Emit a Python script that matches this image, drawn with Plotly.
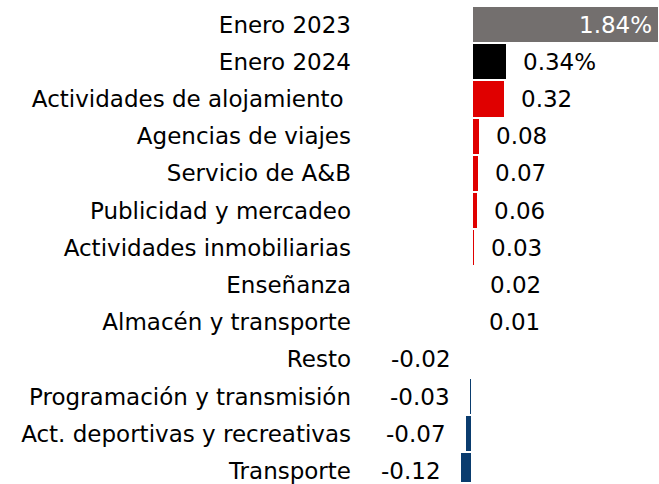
import plotly.graph_objects as go

categories = ["Enero 2023", "Enero 2024", "Actividades de alojamiento\u00a0", "Agencias de viajes",
              "Servicio de A&B", "Publicidad y mercadeo", "Actividades inmobiliarias", "Enseñanza",
              "Almacén y transporte", "Resto", "Programación y transmisión",
              "Act. deportivas y recreativas", "Transporte"]
values = [1.84, 0.34, 0.32, 0.08, 0.07, 0.06, 0.03, 0.02, 0.01, -0.02, -0.03, -0.07, -0.12]
value_labels = ["1.84%", "0.34%", "0.32", "0.08", "0.07", "0.06", "0.03", "0.02", "0.01",
                "-0.02", "-0.03", "-0.07", "-0.12"]

GRAY = "#736f6e"
BLACK = "#000000"
RED = "#e00000"
BLUE = "#0a3c6e"
colors = [GRAY, BLACK] + [RED if v > 0 else BLUE for v in values[2:]]

FONT = "DejaVu Sans"
FS = 23

fig = go.Figure(go.Bar(
    x=values, y=categories, orientation="h",
    marker=dict(color=colors, line=dict(color="white", width=2)),
    hoverinfo="skip",
))

annotations = []
for i, (cat, v, lab) in enumerate(zip(categories, values, value_labels)):
    if i == 0:
        annotations.append(dict(x=v, y=cat, text=lab, showarrow=False, xanchor="right",
                                xshift=-5, font=dict(color="white", size=FS, family=FONT)))
    elif v >= 0:
        annotations.append(dict(x=v, y=cat, text=lab, showarrow=False, xanchor="left",
                                xshift=14, font=dict(color="black", size=FS, family=FONT)))
    else:
        annotations.append(dict(x=v, y=cat, text=lab, showarrow=False, xanchor="right",
                                xshift=-17, font=dict(color="black", size=FS, family=FONT)))

fig.update_layout(
    width=659, height=484,
    margin=dict(l=352, r=0, t=6, b=0),
    paper_bgcolor="white", plot_bgcolor="white",
    bargap=0,
    showlegend=False,
    annotations=annotations,
    xaxis=dict(range=[-1.185, 1.84], visible=False, showgrid=False, zeroline=False),
    yaxis=dict(range=[12.295, -0.5], showgrid=False, zeroline=False, showline=False,
               ticks="", tickfont=dict(size=FS, color="black", family=FONT)),
    font=dict(family=FONT),
)

fig.write_html("out.html", config={"displayModeBar": False},
               post_script="document.body.style.margin='0';document.body.style.overflow='hidden';")
